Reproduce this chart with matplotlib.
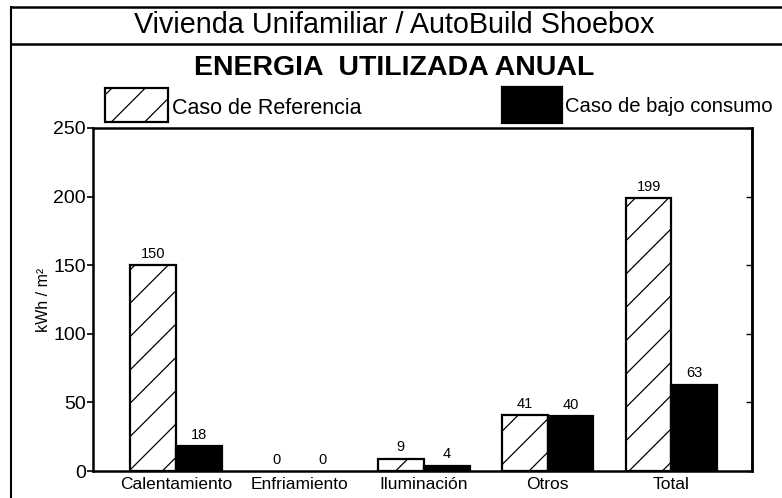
import matplotlib
matplotlib.use("Agg")
import matplotlib.pyplot as plt
from matplotlib.patches import Rectangle
from matplotlib.lines import Line2D
import numpy as np

categories = ["Calentamiento", "Enfriamiento", "Iluminación", "Otros", "Total"]
ref_values = [150, 0, 9, 41, 199]
low_values = [18, 0, 4, 40, 63]
yticks = [0, 50, 100, 150, 200, 250]
series_names = ["Caso de Referencia", "Caso de bajo consumo"]
title = "Vivienda Unifamiliar / AutoBuild Shoebox"
subtitle = "ENERGIA  UTILIZADA ANUAL"
ylabel = "kWh / m²"

plt.rcParams['font.family'] = ['Liberation Sans', 'DejaVu Sans']
plt.rcParams['hatch.linewidth'] = 0.9

W, H = 782, 498
fig = plt.figure(figsize=(W / 100, H / 100), dpi=100)

def fx(x):
    return x / W

def fy(y):
    return 1 - y / H

left, right, top, bottom = 93, 752, 128, 471
ax = fig.add_axes([fx(left), fy(bottom), fx(right) - fx(left), fy(top) - fy(bottom)])

x = np.arange(len(categories))
bw = 0.37
b1 = ax.bar(x - bw / 2, ref_values, bw, facecolor='white', edgecolor='black',
            hatch='/', linewidth=1.6)
b2 = ax.bar(x + bw / 2, low_values, bw, facecolor='black', edgecolor='black',
            linewidth=1.6)
for rect, v in zip(list(b1) + list(b2), ref_values + low_values):
    if v == 0:
        rect.set_linewidth(0)

for rect, v in zip(list(b1) + list(b2), ref_values + low_values):
    ax.annotate(f"{v}", (rect.get_x() + rect.get_width() / 2, v),
                xytext=(0, 3), textcoords='offset points', ha='center', va='bottom',
                fontsize=10.5)

ax.set_xlim(-0.67, 4.65)
ax.set_ylim(0, 250)
ax.set_yticks(yticks)
ax.set_xticks(x)
ax.set_xticklabels(categories, fontsize=12.5)
ax.tick_params(axis='x', length=0, pad=4)
ax.tick_params(axis='y', labelsize=14, length=4, width=1.2, pad=1, direction='out')
ax.set_ylabel(ylabel, fontsize=11.5, labelpad=2)
for s in ax.spines.values():
    s.set_linewidth(1.8)

sec = ax.secondary_yaxis('right')
sec.set_yticks(yticks)
sec.tick_params(direction='in', length=4, width=1.0, labelright=False)
sec.spines['right'].set_linewidth(1.8)

# frame lines
fig.add_artist(Line2D([fx(11), fx(11)], [fy(7), fy(498)], color='black', lw=1.5))
fig.add_artist(Line2D([fx(11), 1], [fy(7), fy(7)], color='black', lw=1.8))
fig.add_artist(Line2D([fx(11), 1], [fy(44), fy(44)], color='black', lw=1.8))

fig.text(fx(394), fy(25), title, ha='center', va='center', fontsize=20.7)
fig.text(fx(394), fy(68), subtitle, ha='center', va='center', fontsize=20.5, fontweight='bold')

# legend
fig.add_artist(Rectangle((fx(105), fy(122)), fx(168) - fx(105), fy(88) - fy(122),
                         transform=fig.transFigure, facecolor='white', edgecolor='black',
                         hatch='/', linewidth=1.6))
fig.text(fx(172), fy(108), series_names[0], ha='left', va='center', fontsize=15.5)
fig.add_artist(Rectangle((fx(502), fy(123)), fx(562) - fx(502), fy(87) - fy(123),
                         transform=fig.transFigure, facecolor='black', edgecolor='black',
                         linewidth=1.6))
fig.text(fx(565), fy(106), series_names[1], ha='left', va='center', fontsize=14.6)

fig.savefig("out.png", dpi=100)
